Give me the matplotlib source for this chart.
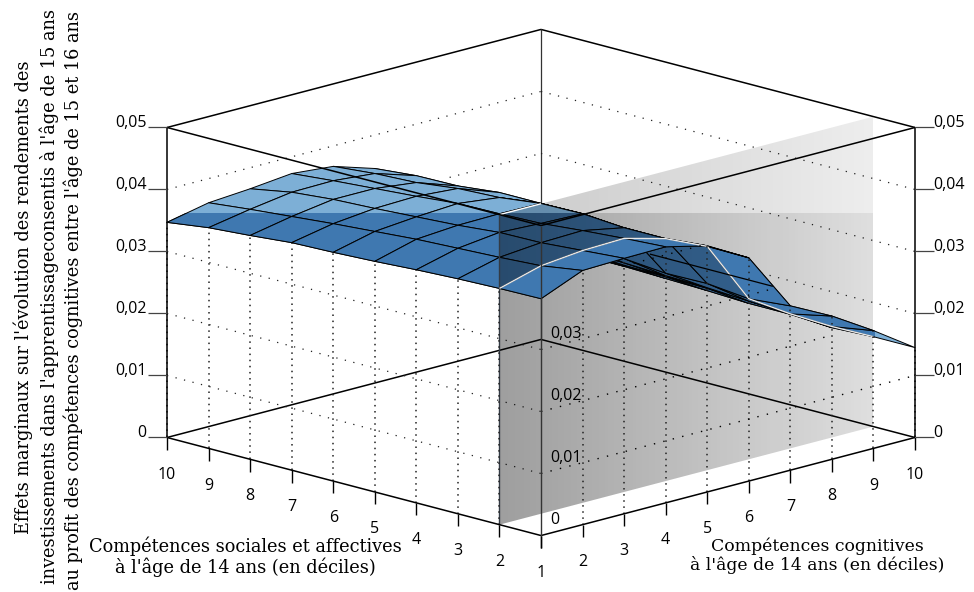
# -*- coding: utf-8 -*-
"""
Effets marginaux: surface vue en 3D, plan gris a deciles sociaux = 2
"""
import numpy as np
import matplotlib
matplotlib.use('Agg')
import matplotlib.pyplot as plt
from matplotlib.patches import Polygon
from matplotlib.transforms import Bbox
from mpl_toolkits.mplot3d import proj3d

deciles = [1, 2, 3, 4, 5, 6, 7, 8, 9, 10]
z_ticks = [0, 0.01, 0.02, 0.03, 0.04, 0.05]
z_labels = ['0', '0,01', '0,02', '0,03', '0,04', '0,05']
front_ticks = [0, 0.01, 0.02, 0.03]
front_labels = ['0', '0,01', '0,02', '0,03']

# values by cognitive decile, then social decile 1..10
cog1 = [.0382, .0381, .0379, .0376, .0372, .0369, .0367, .0361, .0356, .0347]
cog2 = [.0410, .0400, .0396, .0393, .0390, .0385, .0380, .0374, .0368, .0361]
cog3 = [.0412, .0407, .0402, .0401, .0395, .0391, .0387, .0384, .0378, .0366]
cog4 = [.0413, .0409, .0404, .0398, .0396, .0395, .0389, .0384, .0379, .0373]
cog5 = [.0397, .0391, .0391, .0396, .0395, .0387, .0384, .0376, .0373, .0367]
cog6 = [.0360, .0361, .0355, .0355, .0361, .0360, .0360, .0353, .0352, .0346]
cog7 = [.0265, .0259, .0266, .0265, .0271, .0275, .0278, .0280, .0280, .0280]
cog8 = [.0231, .0217, .0220, .0224, .0226, .0229, .0230, .0230, .0230, .0230]
cog9 = [.0190, .0179, .0182, .0186, .0188, .0189, .0190, .0190, .0190, .0190]
cog10 = [.0145, .0145, .0142, .0146, .0146, .0149, .0151, .0153, .0153, .0151]

ylab1 = "Effets marginaux sur l'évolution des rendements des"
ylab2 = "investissements dans l'apprentissageconsentis à l'âge de 15 ans"
ylab3 = "au profit des compétences cognitives entre l'âge de 15 et 16 ans"
xlab_soc = "Compétences sociales et affectives\nà l'âge de 14 ans (en déciles)"
xlab_cog = "Compétences cognitives\nà l'âge de 14 ans (en déciles)"

serif = 'DejaVu Serif'
sans = 'Open Sans'
dark_blue = '#3f78b0'
light_blue = '#7dafd6'

Z = np.array([cog1, cog2, cog3, cog4, cog5, cog6, cog7, cog8, cog9, cog10]).T
X, Y = np.meshgrid(deciles, deciles)

fig = plt.figure(figsize=(9.74, 5.92), dpi=100)
W = 880
ax = fig.add_axes([(541 - 0.5135 * W) / 974, (309.5 - 0.5135 * W) / 592, W / 974, W / 592],
                  projection='3d', proj_type='ortho')
ax.view_init(elev=15.2, azim=-135)
ax.set_box_aspect((1, 1, 0.6074), zoom=0.898)
ax.set_xlim(1, 10, view_margin=0)
ax.set_ylim(1, 10, view_margin=0)
ax.set_zlim(0, 0.05, view_margin=0)
ax.set_axis_off()
ax.computed_zorder = False

# pixel boxes, y counted from the bottom of the figure
band = 592 - 213
in_band = Bbox([[167, 0], [875, band]])


def edge(xs, ys, zs, zorder=1, lw=1.1, color='k', ls='-'):
    ax.plot(xs, ys, zs, color=color, lw=lw, ls=ls, zorder=zorder, solid_capstyle='butt')


def proj_xy(x, y, z):
    px, py, _ = proj3d.proj_transform(x, y, z, ax.get_proj())
    return float(px), float(py)


def label(x, y, z, s, ha='center'):
    px, py = proj_xy(x, y, z)
    ax.text2D(px, py, s, transform=ax.transData, fontsize=11.5, family=sans, ha=ha, va='center',
              zorder=8)


# box, back part
for z in [0, 0.05]:
    edge([1, 10], [10, 10], [z, z])
    edge([10, 10], [10, 1], [z, z])
edge([10, 10], [10, 10], [0, 0.05], lw=0.9, color='#333333')

# dotted grid, only the stretches the reference leaves visible
dots = (0, (1, 6))
grid_col = '#222222'
edge([1, 10], [10, 10], [0.04, 0.04], lw=0.9, ls=dots, color=grid_col)
edge([7.8, 10], [10, 10], [0.03, 0.03], lw=0.9, ls=dots, color=grid_col)
for z in [0.04, 0.03, 0.02]:
    edge([10, 10], [10, 1], [z, z], lw=0.9, ls=dots, color=grid_col)
for z in [0.03, 0.02, 0.01]:
    edge([1, 1], [10, 1], [z, z], lw=0.9, ls=dots, color=grid_col)

# surface behind the wall
for col, z0, box in [(light_blue, 3, None), (dark_blue, 3.1, in_band)]:
    s = ax.plot_surface(X[1:], Y[1:], Z[1:], rstride=1, cstride=1, color=col, edgecolor='k',
                        linewidth=0.7, shade=False, zorder=z0)
    if box is not None:
        s.set_clip_box(box)

# grey wall at social decile 2, black with alpha so it darkens what is behind
corners = [proj_xy(1, 2, 0), proj_xy(10, 2, 0), proj_xy(10, 2, 0.05), proj_xy(1, 2, 0.05)]
xs_c = [c[0] for c in corners]
ys_c = [c[1] for c in corners]
a_low = np.linspace(0.39, 0.13, 120)
for alphas, z0, box in [(a_low, 4, Bbox([[0, 0], [974, band]])),
                        (a_low * 0.55, 4.1, Bbox([[0, band], [974, 592]]))]:
    cols = np.zeros((1, 120, 4))
    cols[0, :, 0:3] = 0.02
    cols[0, :, 3] = alphas
    im = ax.imshow(cols, extent=(min(xs_c), max(xs_c), min(ys_c), max(ys_c)), aspect='auto',
                   interpolation='nearest', zorder=z0)
    im.set_clip_path(Polygon(corners, transform=ax.transData))
    im.set_clip_box(box)
edge([1, 1], [2, 2], [0, 0.05], zorder=4.2, lw=1.0, color='#333b45')

# strip in front of the wall
for col, z0, box in [(light_blue, 5, None), (dark_blue, 5.1, in_band)]:
    s = ax.plot_surface(X[:2], Y[:2], Z[:2], rstride=1, cstride=1, color=col, edgecolor='k',
                        linewidth=0.7, shade=False, zorder=z0)
    if box is not None:
        s.set_clip_box(box)

# where the wall cuts the surface
edge(deciles, [2] * 10, Z[1], zorder=5.5, lw=1.0, color='#e8e8e8')
edge([1, 2], [2, 2], [0.05, 0.05], zorder=5.5, lw=1.0, color='white')

# drop lines under the two front edges
drops = (0, (1, 3))
for k in range(1, 10):
    edge([deciles[k]] * 2, [1, 1], [0, Z[0, k]], zorder=6, lw=1.1, ls=drops, color='#222222')
    edge([1, 1], [deciles[k]] * 2, [0, Z[k, 0]], zorder=6, lw=1.1, ls=drops, color='#222222')

# front right grid stops where it meets the surface
for x0, x1, z in [(3, 4.9, 0.04), (1, 6.6, 0.03), (1, 8, 0.02), (1, 10, 0.01)]:
    edge([x0, x1], [1, 1], [z, z], zorder=6, lw=1.0, ls=dots, color='k')

# box, front part
for z in [0, 0.05]:
    edge([1, 1], [10, 1], [z, z], zorder=7)
    edge([1, 10], [1, 1], [z, z], zorder=7)
edge([1, 1], [-1.62, -4.58], [0.05, 0.05], zorder=7, lw=0.9)
edge([1, 1], [1, 1], [0, 0.05], zorder=7, lw=1.0, color='#333333')
edge([1, 1], [10, 10], [0, 0.05], zorder=7)
edge([10, 10], [1, 1], [0, 0.05], zorder=7)

# ticks and their labels
for k, d in enumerate(deciles):
    edge([d, d], [1, 1], [0, -0.002], zorder=7, lw=1.0)
    edge([1, 1], [d, d], [0, -0.002], zorder=7, lw=1.0)
    label(d, 1, -0.006, str(d))
    if k > 0:
        label(1, d, -0.006, str(d))

for z, lab in zip(z_ticks, z_labels):
    edge([0.77, 1], [10.23, 10], [z, z], zorder=7, lw=0.9, color='#444444')
    edge([10, 10.23], [1, 0.77], [z, z], zorder=7, lw=0.9, color='#444444')
    label(0.75, 10.25, z + 0.0008, lab, ha='right')
    label(10.22, 0.78, z + 0.0008, lab, ha='left')

for z, lab in zip(front_ticks, front_labels):
    label(1.11, 0.89, z + 0.0025, lab, ha='left')

fig.text(23 / 974, 1 - 60 / 592, ylab1, rotation=90, family=serif, fontsize=12.8, ha='center', va='top')
fig.text(49 / 974, 1 - 9 / 592, ylab2, rotation=90, family=serif, fontsize=12.8, ha='center', va='top')
fig.text(73 / 974, 1 - 11 / 592, ylab3, rotation=90, family=serif, fontsize=12.8, ha='center', va='top')
fig.text(245 / 974, 1 - 557 / 592, xlab_soc, family=serif, fontsize=12.8, ha='center', va='center', linespacing=1.1)
fig.text(817 / 974, 1 - 556 / 592, xlab_cog, family=serif, fontsize=12.4, ha='center', va='center', linespacing=1.1)

fig.savefig('out.png', dpi=100)
